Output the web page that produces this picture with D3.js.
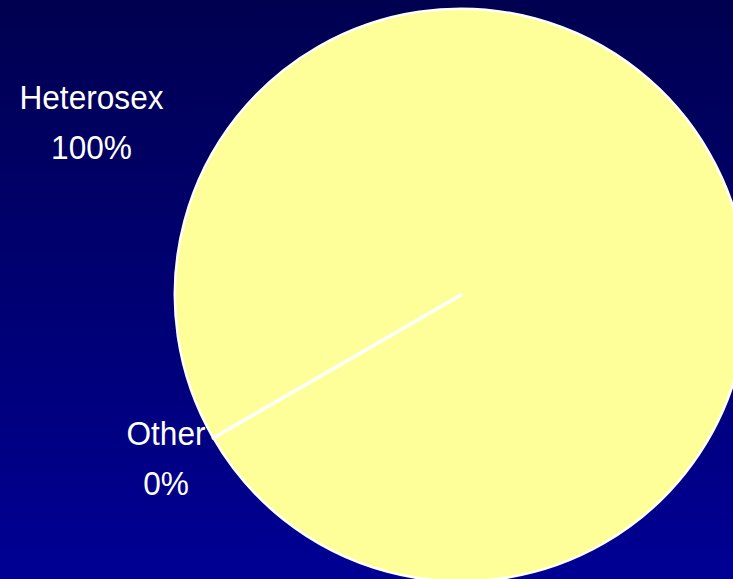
<!DOCTYPE html>
<html>
<head>
<meta charset="utf-8">
<script src="https://cdn.jsdelivr.net/npm/d3@7"></script>
<style>
html,body{margin:0;padding:0;overflow:hidden;background:#000070;}
</style>
</head>
<body>
<script>
const categories = ["Heterosex", "Other"];
const values = [100, 0];
const percentLabels = ["100%", "0%"];

const W = 733, H = 579;
const svg = d3.select("body").append("svg").attr("width", W).attr("height", H);

const defs = svg.append("defs");
const grad = defs.append("linearGradient").attr("id", "bg").attr("x1", 0).attr("y1", 0).attr("x2", 0).attr("y2", 1);
grad.append("stop").attr("offset", "0%").attr("stop-color", "#000050");
grad.append("stop").attr("offset", "100%").attr("stop-color", "#000094");
svg.append("rect").attr("width", W).attr("height", H).attr("fill", "url(#bg)");

const cx = 461, cy = 295, r = 286;
const start = 240 * Math.PI / 180;
const pie = d3.pie().sort(null).value(d => d).startAngle(start - 2 * Math.PI).endAngle(start);
const arcs = pie(values);
const arc = d3.arc().innerRadius(0).outerRadius(r);

const g = svg.append("g").attr("transform", `translate(${cx},${cy})`);
g.selectAll("path").data(arcs).enter().append("path")
  .attr("d", arc)
  .attr("fill", "#FFFF99")
  .attr("stroke", "#FFFFFF")
  .attr("stroke-width", d => (d.endAngle - d.startAngle) < 1e-6 ? 3.5 : 2.5)
  .attr("stroke-linejoin", "round")
  .attr("stroke-linecap", "round");

const labelPos = [[91.5, 109], [166, 445]];
const lg = svg.append("g");
categories.forEach((c, i) => {
  const t = lg.append("text")
    .attr("transform", `translate(${labelPos[i][0]},${labelPos[i][1]}) scale(0.93,1)`)
    .attr("text-anchor", "middle")
    .attr("fill", "#FFFFFF")
    .style("font-family", "'Liberation Sans', Arial, sans-serif")
    .style("font-size", "34px");
  t.append("tspan").attr("x", 0).attr("y", 0).text(c);
  t.append("tspan").attr("x", 0).attr("y", 50).text(percentLabels[i]);
});
</script>
</body>
</html>
